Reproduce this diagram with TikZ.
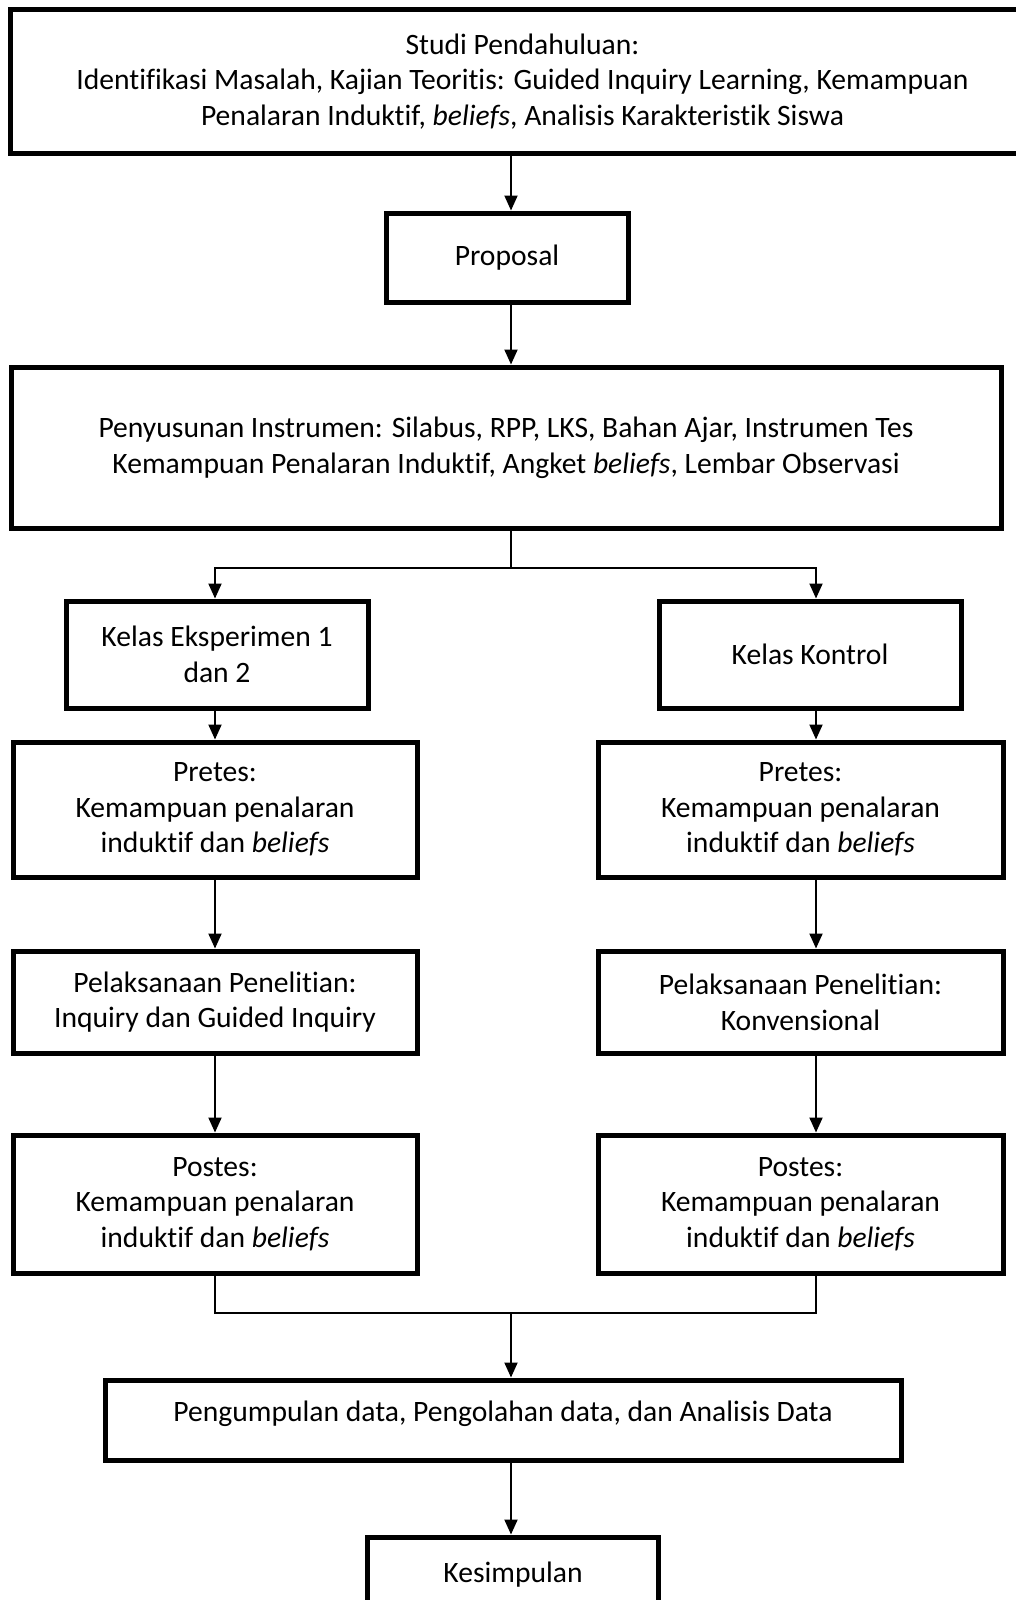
\documentclass[tikz,border=0pt]{standalone}
\usepackage{fontspec}
\setmainfont{Carlito}[Ligatures={NoCommon}]
\usetikzlibrary{arrows.meta}
\newcommand{\mainfs}{\fontsize{29.6}{35.7}\selectfont}
\tikzset{
  box/.style={draw, line width=5pt, inner sep=0pt, align=center, font=\mainfs},
  txt/.style={inner sep=0pt, align=center, font=\mainfs},
  ln/.style={line width=2pt},
  arr/.style={line width=2pt, -{Triangle[length=15pt,width=13pt]}}
}
\begin{document}
\begin{tikzpicture}[x=1pt,y=-1pt]
\useasboundingbox (0,0) rectangle (1015,1600);
% column axes
\coordinate (ax) at (511,0);
\coordinate (cl) at (215,0);
\coordinate (cr) at (816,0);
% nodes
\node[box, minimum width=1025, minimum height=143] (studi) at (522.5,81.5)
  {Studi Pendahuluan:\\Identifikasi Masalah, Kajian Teoritis: Guided Inquiry Learning, Kemampuan\\Penalaran Induktif, \textit{beliefs}, Analisis Karakteristik Siswa};
\node[box, minimum width=242, minimum height=89] (prop) at (507,257.5) {Proposal};
\node[box, minimum width=990, minimum height=161] (instr) at (506,447.5)
  {Penyusunan Instrumen: Silabus, RPP, LKS, Bahan Ajar, Instrumen Tes\\Kemampuan Penalaran Induktif, Angket \textit{beliefs}, Lembar Observasi};
\node[box, minimum width=302, minimum height=107] (ke) at (217,654.5) {Kelas Eksperimen 1\\dan 2};
\node[box, minimum width=302, minimum height=107] (kk) at (810,654.5) {Kelas Kontrol};
\node[box, minimum width=404, minimum height=135] (prel) at (215,809.5)
  {Pretes:\\Kemampuan penalaran\\induktif dan \textit{beliefs}};
\node[box, minimum width=405, minimum height=135] (prer) at (800.5,809.5)
  {Pretes:\\Kemampuan penalaran\\induktif dan \textit{beliefs}};
\node[box, minimum width=404, minimum height=102] (pell) at (215,1002)
  {Pelaksanaan Penelitian:\\Inquiry dan Guided Inquiry};
\node[box, minimum width=405, minimum height=102] (pelr) at (800.5,1002)
  {Pelaksanaan Penelitian:\\Konvensional};
\node[box, minimum width=404, minimum height=138] (posl) at (215,1204)
  {Postes:\\Kemampuan penalaran\\induktif dan \textit{beliefs}};
\node[box, minimum width=405, minimum height=138] (posr) at (800.5,1204)
  {Postes:\\Kemampuan penalaran\\induktif dan \textit{beliefs}};
\node[box, minimum width=796, minimum height=80] (peng) at (503,1420) {};
\node[txt] (pengt) at (503,1414) {Pengumpulan data, Pengolahan data, dan Analisis Data};
\node[box, minimum width=291, minimum height=110] (kes) at (513,1592) {};
\node[txt] (kest) at (513,1575) {Kesimpulan};
% junctions
\coordinate (j1) at (511,568);
\coordinate (j2) at (511,1313);
% connectors
\draw[arr] (ax |- studi.south) -- (ax |- prop.north);
\draw[arr] (ax |- prop.south) -- (ax |- instr.north);
\draw[ln] (j1 |- instr.south) -- (j1);
\draw[arr] (j1) -| (cl |- ke.north);
\draw[arr] (j1) -| (cr |- kk.north);
\draw[arr] (cl |- ke.south) -- (cl |- prel.north);
\draw[arr] (cr |- kk.south) -- (cr |- prer.north);
\draw[arr] (cl |- prel.south) -- (cl |- pell.north);
\draw[arr] (cr |- prer.south) -- (cr |- pelr.north);
\draw[arr] (cl |- pell.south) -- (cl |- posl.north);
\draw[arr] (cr |- pelr.south) -- (cr |- posr.north);
\draw[ln] (cl |- posl.south) |- (j2) -| (cr |- posr.south);
\draw[arr] (j2) -- (ax |- peng.north);
\draw[arr] (ax |- peng.south) -- (ax |- kes.north);
\end{tikzpicture}
\end{document}
